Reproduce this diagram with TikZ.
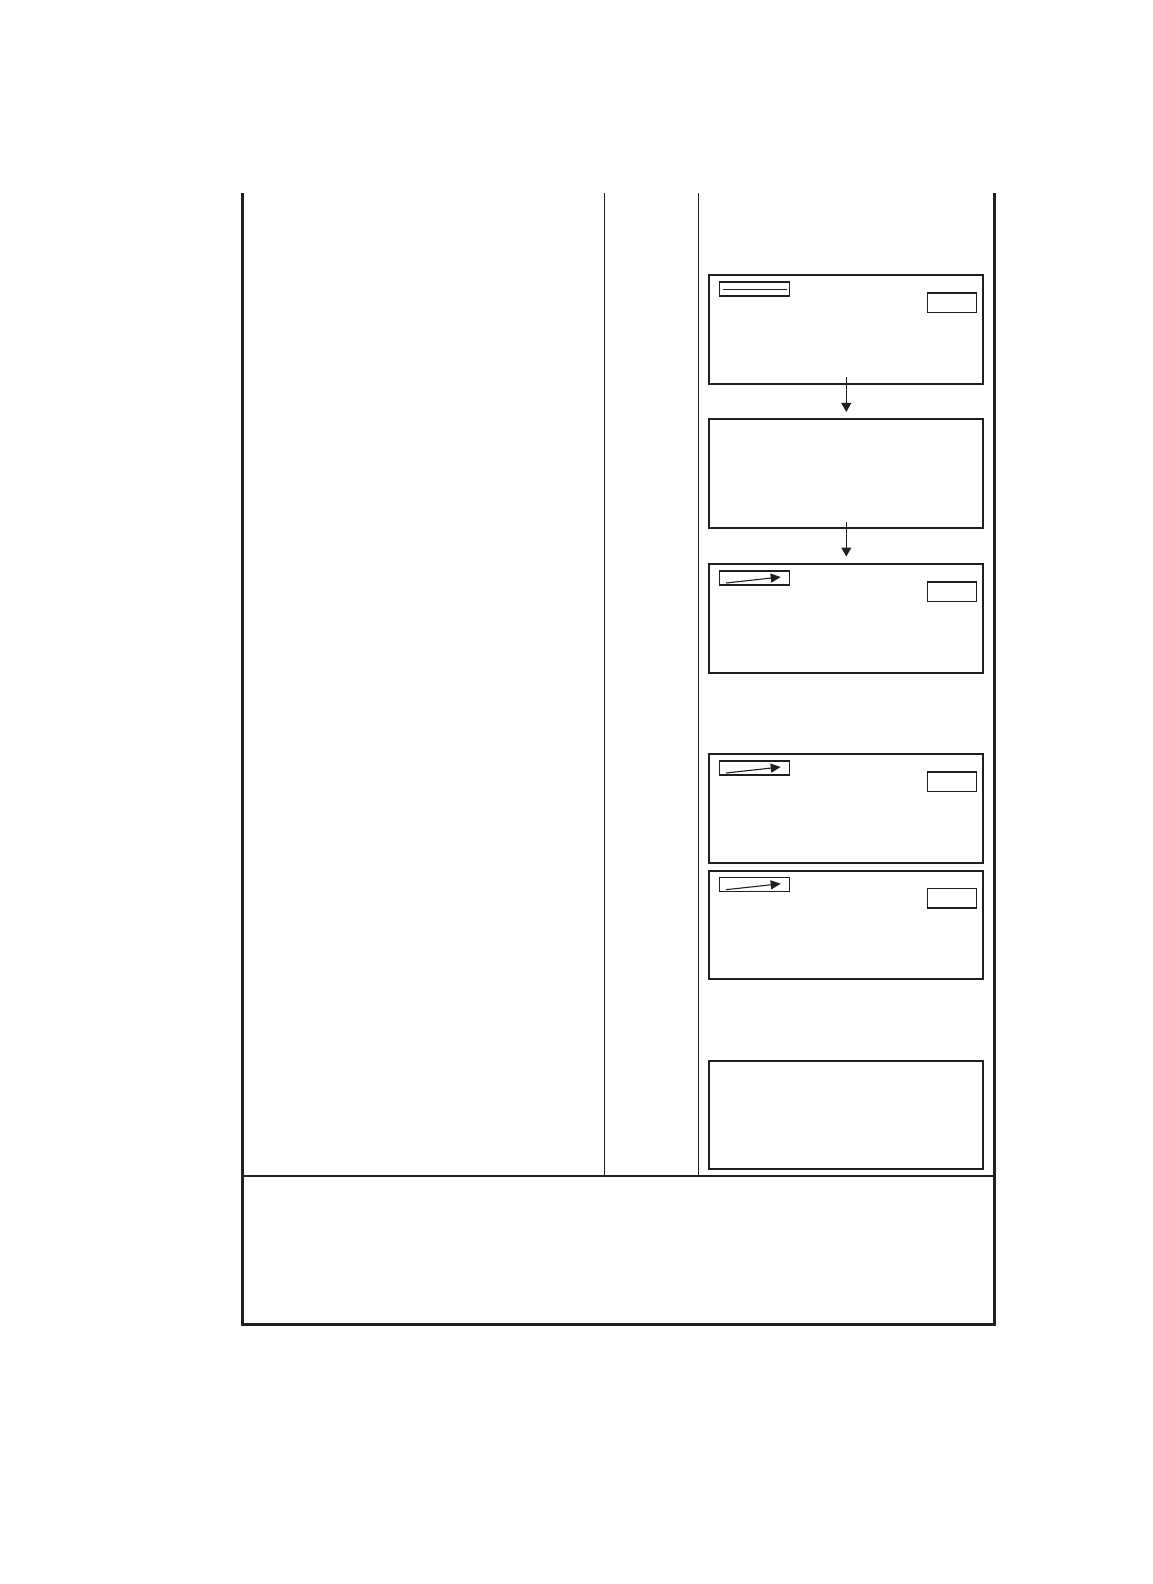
\documentclass[tikz,border=0pt]{standalone}
\usetikzlibrary{arrows.meta}
\begin{document}
\begin{tikzpicture}[x=1pt,y=-1pt, black!88,
    screen/.style ={draw, line width=2pt, minimum width=274pt, minimum height=108.5pt,
                    inner sep=0pt, outer sep=0pt, anchor=north west},
    title/.style ={draw, line width=1.3pt, minimum width=70pt, minimum height=14pt,
                   inner sep=0pt, outer sep=0pt, anchor=north west},
    key/.style ={draw, line width=1.5pt, minimum width=49.4pt, minimum height=19.4pt,
                 inner sep=0pt, outer sep=0pt, anchor=north east},
    flow/.style ={line width=1pt, -{Triangle[length=9pt,width=10pt]}},
    pointer/.style ={line width=1.1pt, -{Triangle[length=10pt,width=9pt]}}]
   \useasboundingbox (0,0) rectangle (1152,1584);
   % frame
   \coordinate (TL) at (242.3,193.3);
   \coordinate (BL) at (242.3,1324);
   \coordinate (BR) at (994,1324);
   \coordinate (TR) at (994,193.3);
   \draw[line width=3pt, line join=miter] (TL) -- (BL) -- (BR) -- (TR);
   \draw[line width=1.3pt] (242.3,1176) -- (994,1176);
   \draw[line width=1.1pt] (604.5,193.3) -- (604.5,1176);
   \draw[line width=1.1pt] (698.5,193.3) -- (698.5,1176);
   % screens
   \node[screen] (s1) at (709.3,275)    {};
   \node[screen] (s2) at (709.3,419.4)  {};
   \node[screen] (s3) at (709.3,564)    {};
   \node[screen] (s4) at (709.3,754)    {};
   \node[screen] (s5) at (709.3,870.7)  {};
   \node[screen] (s6) at (709.3,1060.7) {};
   \draw[flow] ([yshift=6.5pt]s1.south) -- ([yshift=7.5pt]s2.north);
   \draw[flow] ([yshift=6pt]s2.south) -- ([yshift=7.5pt]s3.north);
   % title and key boxes
   \foreach \s in {s1,s3,s4,s5} {
     \node[title] (t\s) at ([xshift=10pt,yshift=-7pt]\s.north west) {};
     \node[key] (k\s) at ([xshift=-6.6pt,yshift=-18pt]\s.north east) {};
   }
   \draw[line width=1pt] ([xshift=3.7pt]ts1.west) -- ([xshift=-2.3pt]ts1.east);
   \foreach \s in {s3,s4,s5}
     \draw[pointer] ([xshift=6.7pt,yshift=2pt]t\s.south west) -- ([xshift=-8.6pt,yshift=8pt]t\s.south east);
 \end{tikzpicture}
\end{document}
